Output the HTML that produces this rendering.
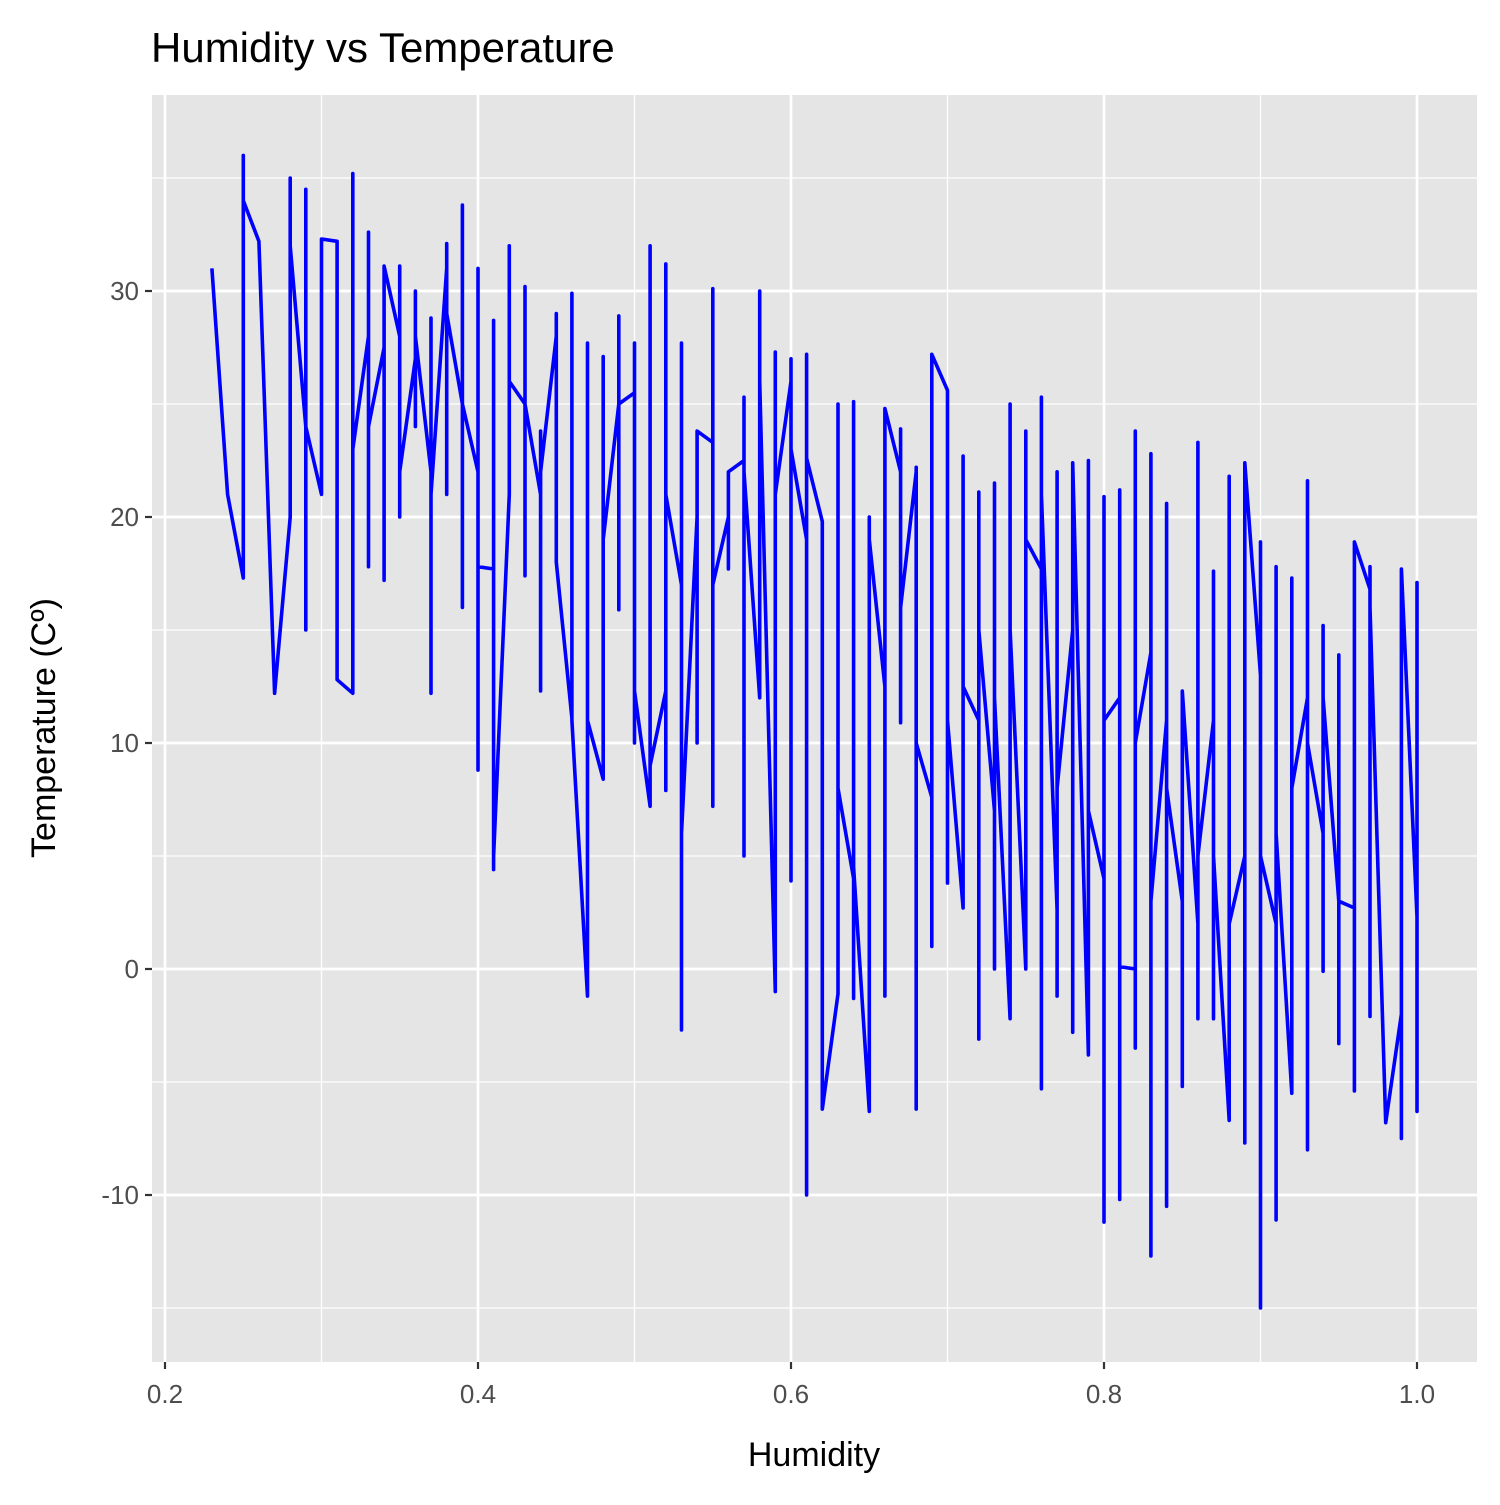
<!DOCTYPE html>
<html><head><meta charset="utf-8"><style>
body{margin:0;background:#fff;}
svg text{font-family:"Liberation Sans",Arial,sans-serif;}
</style></head><body>
<svg id="chart" width="1500" height="1500" xmlns="http://www.w3.org/2000/svg">
<rect width="1500" height="1500" fill="#fff"/>
<text x="151" y="62" font-size="42" fill="#000">Humidity vs Temperature</text>
<rect x="152" y="95" width="1325" height="1267" fill="#e5e5e5"/>
<g id="grid"></g>
<g id="series"></g>
<g id="axes"></g>
<text x="814" y="1466" font-size="34" text-anchor="middle" fill="#000">Humidity</text>
<text transform="translate(55,728) rotate(-90)" font-size="34" text-anchor="middle" fill="#000">Temperature (Cº)</text>
</svg>
<script>
const humidity=[0.23,0.24,0.25,0.26,0.27,0.28,0.29,0.30,0.31,0.32,0.33,0.34,0.35,0.36,0.37,0.38,0.39,0.40,0.41,0.42,0.43,0.44,0.45,0.46,0.47,0.48,0.49,0.50,0.51,0.52,0.53,0.54,0.55,0.56,0.57,0.58,0.59,0.60,0.61,0.62,0.63,0.64,0.65,0.66,0.67,0.68,0.69,0.70,0.71,0.72,0.73,0.74,0.75,0.76,0.77,0.78,0.79,0.80,0.81,0.82,0.83,0.84,0.85,0.86,0.87,0.88,0.89,0.90,0.91,0.92,0.93,0.94,0.95,0.96,0.97,0.98,0.99,1.00];
const temps=[[31],[21],[17.3,36,34],[32.2],[12.2],[20,35,32],[24,15,34.5,24],[21,32.3],[32.2,12.8],[12.2,35.2,23],[28,17.8,32.6,24],[27.5,17.2,31.1],[28,20,31.1,22],[27,24,30,28],[22,12.2,28.8,21],[31,21,32.1,29],[25,16,33.8,25],[22,8.8,31,17.8],[17.7,4.4,28.7,5],[21,32,26],[25,17.4,30.2,25],[21,12.3,23.8,22],[28,29,18],[11.1,29.9,11],[-1.2,27.7,11],[8.4,27.1,19],[25,15.9,28.9,25],[25.5,10,27.7,12.3],[7.2,32,9],[12.3,7.9,31.2,21],[17,-2.7,27.7,6],[20,10,23.8],[23.3,7.2,30.1,17],[20,17.7,22],[22.5,5,25.3,22],[12,30,26],[-1,27.3,21],[26,3.9,27,23],[19,-10,27.2,22.6],[19.8,-6.2],[-1.1,25,8],[4,-1.3,25.1,4.5],[-6.3,20,19],[12.5,-1.2,24.8],[22,10.9,23.9,16],[22,-6.2,22.2,10],[7.6,1,27.2],[25.6,3.8,11],[2.7,22.7,12.5],[11,-3.1,21.1,15],[7,0,21.5,12],[-2.2,25,15],[0,23.8,19],[17.7,-5.3,25.3,21],[2.6,-1.2,22,8],[15,-2.8,22.4],[-3.8,22.5,7],[4,-11.2,20.9,11],[12,-10.2,21.2,0.1],[0,-3.5,23.8,10],[14,-12.7,22.8,3],[11,-10.5,20.6,8],[3,-5.2,12.3],[2,-2.2,23.3,5],[11,-2.2,17.6,5],[-6.7,21.8,2],[5,-7.7,22.4],[13,-15,18.9,5],[2,-11.1,17.8,6],[-5.5,17.3,8],[12,-8,21.6,10],[6,-0.1,15.2,12],[3,-3.3,13.9,3],[2.7,-5.4,18.9],[16.8,-2.1,17.8,16],[-6.8],[-2,-7.5,17.7],[2.3,-6.3,17.1,2]];
const xTicks=[0.2,0.4,0.6,0.8,1.0];
const xTickLabels=["0.2","0.4","0.6","0.8","1.0"];
const xMinor=[0.3,0.5,0.7,0.9];
const yTicks=[-10,0,10,20,30];
const yTickLabels=["-10","0","10","20","30"];
const yMinor=[-15,-5,5,15,25,35];

const X=h=>165+(h-0.2)*1565;
const Y=t=>969-t*22.6;
const NS="http://www.w3.org/2000/svg";
function mk(tag,attrs,parent){const e=document.createElementNS(NS,tag);for(const k in attrs)e.setAttribute(k,attrs[k]);parent.appendChild(e);return e;}
const grid=document.getElementById('grid'),axes=document.getElementById('axes'),series=document.getElementById('series');
yMinor.forEach(v=>{const l=mk('line',{x1:152,x2:1477,y1:Y(v),y2:Y(v),stroke:'#fff','stroke-width':1.3},grid);

});
xMinor.forEach(v=>{const l=mk('line',{x1:X(v),x2:X(v),y1:95,y2:1362,stroke:'#fff','stroke-width':1.3},grid);

});
yTicks.forEach((v,i)=>{const l=mk('line',{x1:152,x2:1477,y1:Y(v),y2:Y(v),stroke:'#fff','stroke-width':2.7},grid);


const t=mk('line',{x1:145,x2:152,y1:Y(v),y2:Y(v),stroke:'#333','stroke-width':2.2},axes);


const tx=mk('text',{x:139,y:Y(v)+9,'font-size':26,'text-anchor':'end',fill:'#4d4d4d'},axes);tx.textContent=yTickLabels[i];

});
xTicks.forEach((v,i)=>{const l=mk('line',{x1:X(v),x2:X(v),y1:95,y2:1362,stroke:'#fff','stroke-width':2.7},grid);


const t=mk('line',{x1:X(v),x2:X(v),y1:1362,y2:1369,stroke:'#333','stroke-width':2.2},axes);


const tx=mk('text',{x:X(v),y:1403,'font-size':26,'text-anchor':'middle',fill:'#4d4d4d'},axes);tx.textContent=xTickLabels[i];

});
let pts=[];
humidity.forEach((h,i)=>temps[i].forEach(t=>pts.push(X(h).toFixed(1)+','+Y(t).toFixed(1))));
const p=mk('polyline',{points:pts.join(' '),fill:'none',stroke:'#0000ff','stroke-width':3.6,'stroke-linejoin':'round'},series);


</script>
</body></html>
